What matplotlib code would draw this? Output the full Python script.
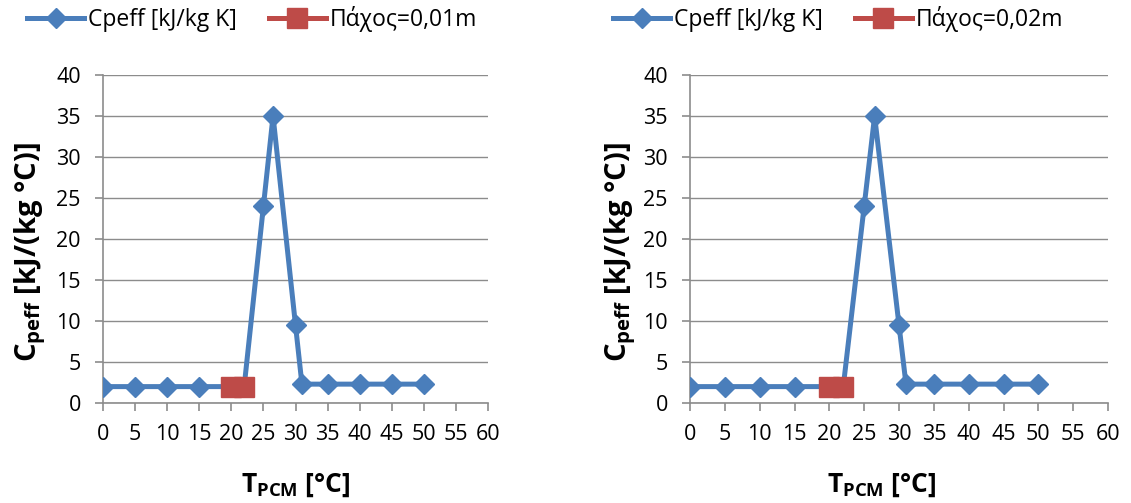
import numpy as np
import matplotlib.pyplot as plt

# data
t_pcm = [0, 5, 10, 15, 20, 22, 25, 26.5, 30, 31, 35, 40, 45, 50]
cpeff = [2, 2, 2, 2, 2, 2, 24, 35, 9.5, 2.3, 2.3, 2.3, 2.3, 2.3]
t_red = [20, 22]
c_red = [2, 2]
thickness_labels = ["Πάχος=0,01m", "Πάχος=0,02m"]
blue_label = "Cpeff [kJ/kg K]"
x_ticks = np.arange(0, 61, 5)
y_ticks = np.arange(0, 41, 5)

BLUE = "#4A7EBB"
RED = "#BE4B48"
GRID = "#8C8C8C"

plt.rcParams['font.family'] = ['Open Sans', 'DejaVu Sans']
plt.rcParams['mathtext.fontset'] = 'custom'
plt.rcParams['mathtext.bf'] = 'Open Sans:bold'


def draw_panel(ax, red_label, legend_x, ylab_x, xlab_x):
    ax.plot(t_pcm, cpeff, color=BLUE, lw=3.6, marker="D", markersize=10.5,
            label=blue_label, zorder=3)
    ax.plot(t_red, c_red, color=RED, lw=3.6, marker="s", markersize=15,
            label=red_label, zorder=4)
    ax.set_xlim(0, 60)
    ax.set_ylim(0, 40)
    ax.set_xticks(x_ticks)
    ax.set_yticks(y_ticks)
    ax.grid(axis="y", color=GRID, lw=1)
    ax.set_axisbelow(True)
    for s in ["top", "right"]:
        ax.spines[s].set_visible(False)
    for s in ["left", "bottom"]:
        ax.spines[s].set_color(GRID)
        ax.spines[s].set_linewidth(1.2)
    ax.tick_params(colors=GRID, labelcolor="black", labelsize=15.5,
                   length=6, width=1.2)
    ax.tick_params(axis="y", pad=10)
    ax.tick_params(axis="x", pad=9)
    ax.set_xlabel(r"T$_{\mathbf{PCM}}$ [°C]", fontsize=19, fontweight="bold",
                  va="center")
    ax.set_ylabel(r"C$_{\mathbf{peff}}$ [kJ/(kg °C)]", fontsize=21,
                  fontweight="bold", va="center")
    ax.xaxis.set_label_coords(xlab_x, -0.25)
    ax.yaxis.set_label_coords(ylab_x, 0.46)
    ax.legend(loc="center", bbox_to_anchor=(legend_x, 1.17), ncol=2,
              frameon=False, fontsize=16.5, handlelength=2.5,
              handletextpad=0.15, columnspacing=1.4)


fig = plt.figure(figsize=(11.31, 5.03), dpi=100)
W, H = 1131, 503
ax1 = fig.add_axes([103 / W, 1 - 403 / H, 385 / W, 328 / H])
ax2 = fig.add_axes([690 / W, 1 - 403 / H, 418 / W, 328 / H])
draw_panel(ax1, thickness_labels[0], 0.387, -0.19, 0.5)
draw_panel(ax2, thickness_labels[1], 0.354, -0.167, 0.46)

fig.savefig("out.png", dpi=100)
